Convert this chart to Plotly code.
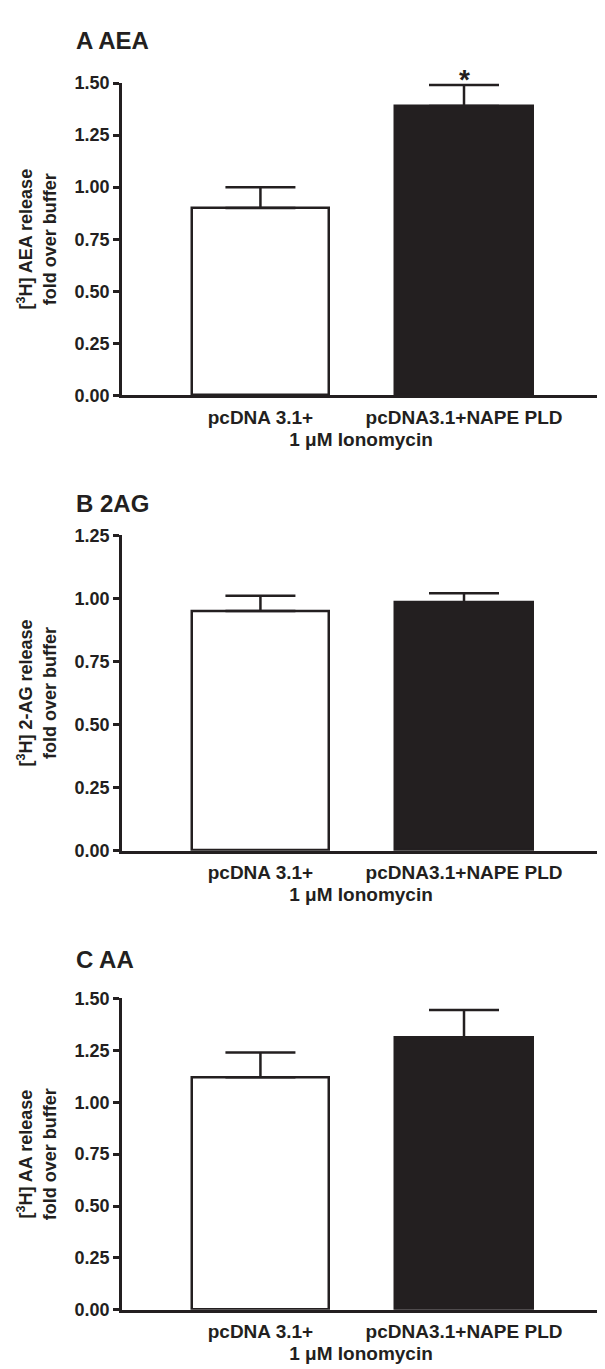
import plotly.graph_objects as go

W, H = 605, 1369

groups = ["pcDNA 3.1+", "pcDNA3.1+NAPE PLD"]
bar_colors = ["white", "#231f20"]

panel_titles = ["A AEA", "B 2AG", "C AA"]
y_titles = ["[<sup>3</sup>H] AEA release<br>fold over buffer",
            "[<sup>3</sup>H] 2-AG release<br>fold over buffer",
            "[<sup>3</sup>H] AA release<br>fold over buffer"]
x_title = "1 \u03bcM Ionomycin"

aea_mean = [0.90, 1.39]
aea_sem = [0.10, 0.10]
ag_mean = [0.95, 0.985]
ag_sem = [0.06, 0.035]
aa_mean = [1.12, 1.31]
aa_sem = [0.12, 0.135]

means = [aea_mean, ag_mean, aa_mean]
sems = [aea_sem, ag_sem, aa_sem]
y_max = [1.5, 1.25, 1.5]
tick_vals = [[0, 0.25, 0.5, 0.75, 1.0, 1.25, 1.5],
             [0, 0.25, 0.5, 0.75, 1.0, 1.25],
             [0, 0.25, 0.5, 0.75, 1.0, 1.25, 1.5]]

# pixel layout of each panel (top, bottom) and title y
panel_px = [(66, 383), (525, 845), (995, 1311)]
title_px = [23, 493, 955]
x_left, x_right = 114, 592

INK = "#231f20"
FONT = "Liberation Sans, Arial, sans-serif"


def px_y(y):
    return 1 - y / H


fig = go.Figure()
for i in range(3):
    n = "" if i == 0 else str(i + 1)
    fig.add_trace(go.Bar(
        x=groups, y=means[i], width=0.675,
        marker=dict(color=bar_colors, line=dict(color=INK, width=2.5)),
        error_y=dict(type="data", array=sems[i], arrayminus=[0, 0], symmetric=False,
                     color=INK, thickness=2.5, width=35),
        xaxis="x" + n, yaxis="y" + n, showlegend=False,
    ))
    top, bot = panel_px[i]
    fig.update_layout(**{
        "xaxis" + n: dict(
            domain=[x_left / W, x_right / W], anchor="y" + n,
            range=[-0.68, 1.668], showline=True, linewidth=2.5, linecolor=INK,
            ticks="", showgrid=False, zeroline=False, ticklabelstandoff=3,
            tickfont=dict(size=19, color=INK, family=FONT, weight="bold"),
            title=dict(text=x_title, standoff=6,
                       font=dict(size=19, color=INK, family=FONT, weight="bold")),
        ),
        "yaxis" + n: dict(
            domain=[px_y(bot), px_y(top)], anchor="x" + n,
            range=[0, y_max[i]], tickvals=tick_vals[i], tickformat=".2f",
            showline=True, linewidth=2.5, linecolor=INK,
            ticks="outside", ticklen=6, tickwidth=2.5, tickcolor=INK,
            showgrid=False, zeroline=False,
            tickfont=dict(size=18, color=INK, family=FONT, weight="bold"),
            title=dict(text=y_titles[i], standoff=14,
                       font=dict(size=18, color=INK, family=FONT, weight="bold")),
        ),
    })
    fig.add_annotation(text=panel_titles[i], xref="paper", yref="paper",
                       x=66 / W, y=px_y(title_px[i]), xanchor="left", yanchor="middle",
                       showarrow=False,
                       font=dict(size=24, color=INK, family=FONT, weight="bold"))

# significance marker on AEA panel
fig.add_annotation(text="*", xref="x", yref="y", x=groups[1], y=aea_mean[1] + aea_sem[1],
                   yanchor="bottom", showarrow=False, yshift=-12,
                   font=dict(size=28, color=INK, family=FONT, weight="bold"))

fig.update_layout(width=W, height=H, margin=dict(l=0, r=0, t=0, b=0),
                  paper_bgcolor="white", plot_bgcolor="white", bargap=0)

fig.write_html("out.html")
